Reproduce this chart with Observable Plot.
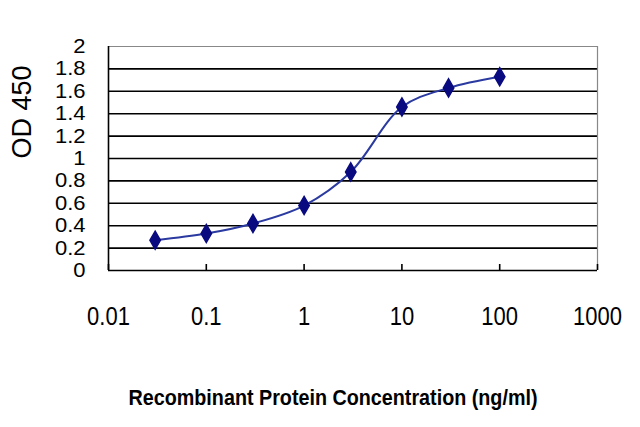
<!DOCTYPE html>
<html>
<head>
<meta charset="utf-8">
<script src="https://cdn.jsdelivr.net/npm/d3@7"></script>
<script src="https://cdn.jsdelivr.net/npm/@observablehq/plot@0.6"></script>
<style>
  html, body { margin: 0; padding: 0; background: #fff; }
</style>
</head>
<body>
<div id="chart"></div>
<script>
// Data
const concentrations = [0.03, 0.1, 0.3, 1, 3, 10, 30, 100];
const od450 = [0.27, 0.33, 0.42, 0.58, 0.88, 1.46, 1.63, 1.73];
const xTicks = [0.01, 0.1, 1, 10, 100, 1000];
const xTickLabels = ["0.01", "0.1", "1", "10", "100", "1000"];
const yTicks = [0, 0.2, 0.4, 0.6, 0.8, 1, 1.2, 1.4, 1.6, 1.8, 2];
const yTickLabels = ["0", "0.2", "0.4", "0.6", "0.8", "1", "1.2", "1.4", "1.6", "1.8", "2"];
const xTitle = "Recombinant Protein Concentration (ng/ml)";
const yTitle = "OD 450";

const data = concentrations.map((c, i) => ({conc: c, od: od450[i]}));
const gridInner = yTicks.filter(v => v > 0 && v < 2);

const chart = Plot.plot({
  width: 640,
  height: 427,
  marginLeft: 108,
  marginRight: 43,
  marginTop: 46,
  marginBottom: 157,
  style: {fontFamily: "'Liberation Sans', Arial, sans-serif", background: "#fff", color: "#000"},
  x: {type: "log", domain: [0.01, 1000], label: null},
  y: {domain: [0, 2], label: null},
  marks: [
    Plot.ruleY(gridInner, {stroke: "#000", strokeWidth: 1.6}),
    Plot.ruleY([2], {stroke: "#888", strokeWidth: 1.2}),
    Plot.ruleX([1000], {stroke: "#888", strokeWidth: 1.2}),
    Plot.ruleX([0.01], {stroke: "#000", strokeWidth: 1.6}),
    Plot.ruleY([0], {stroke: "#000", strokeWidth: 1.6}),
    Plot.axisX({ticks: xTicks, tickSize: -6, tickFormat: () => "", label: null, stroke: "#000", strokeWidth: 1.6}),
    Plot.axisX({ticks: xTicks, tickSize: 0, tickPadding: 37, fontSize: 25, label: null,
      tickFormat: (d) => xTickLabels[xTicks.indexOf(d)], className: "xlab"}),
    Plot.axisY({ticks: yTicks, tickSize: 0, tickPadding: 23, fontSize: 20, label: null,
      tickFormat: (d) => yTickLabels[yTicks.indexOf(d)], className: "ylab"}),
    Plot.line(data, {x: "conc", y: "od", curve: "catmull-rom", stroke: "#2a3aa0", strokeWidth: 2}),
    Plot.dot(data, {x: "conc", y: "od", symbol: "diamond", r: 5.5, fill: "#0a0a80", stroke: "#0a0a80"}),
    Plot.text([yTitle], {frameAnchor: "left", rotate: -90, dx: -86, fontSize: 27, fill: "#000", className: "ytitle"}),
    Plot.text([xTitle], {frameAnchor: "bottom", dy: 134, dx: -20, fontSize: 22, fontWeight: "bold", fill: "#000", className: "xtitle"})
  ]
});

document.getElementById("chart").appendChild(chart);

// Condense glyphs horizontally to match the squeezed look of the reference
function squeeze(sel, factor) {
  d3.select(chart).selectAll(sel).each(function() {
    const len = this.getComputedTextLength();
    if (len > 0) {
      this.setAttribute("textLength", len * factor);
      this.setAttribute("lengthAdjust", "spacingAndGlyphs");
    }
  });
}
squeeze(".xlab text", 0.88);
squeeze(".ylab text", 1.1);
d3.select(chart).selectAll(".xtitle text").each(function() {
  this.setAttribute("textLength", 409);
  this.setAttribute("lengthAdjust", "spacingAndGlyphs");
});
</script>
</body>
</html>
